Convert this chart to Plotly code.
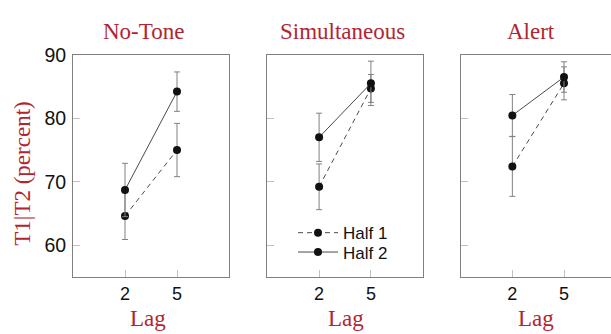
import plotly.graph_objects as go

W, H = 611, 334

conditions = ["No-Tone", "Simultaneous", "Alert"]
lags = [2, 5]
tick_vals_y = [60, 70, 80, 90]
tick_text_y = ["60", "70", "80", "90"]
series_names = ["Half 1", "Half 2"]

# means and error half-widths (percent), per condition, lags 2 and 5
notone_half1 = [64.6, 75.0]
notone_half1_err = [3.7, 4.2]
notone_half2 = [68.7, 84.2]
notone_half2_err = [4.2, 3.1]

simult_half1 = [69.2, 84.7]
simult_half1_err = [3.6, 2.2]
simult_half2 = [77.0, 85.5]
simult_half2_err = [3.8, 3.5]

alert_half1 = [72.4, 85.5]
alert_half1_err = [4.7, 2.6]
alert_half2 = [80.45, 86.5]
alert_half2_err = [3.3, 2.4]

panels = [
    (notone_half1, notone_half1_err, notone_half2, notone_half2_err),
    (simult_half1, simult_half1_err, simult_half2, simult_half2_err),
    (alert_half1, alert_half1_err, alert_half2, alert_half2_err),
]

RED = "#b22530"
SERIF = "Liberation Serif, Times New Roman, serif"
SANS = "Liberation Sans, Arial, sans-serif"
LINE_C = "#4a4a4a"
ERR_C = "#808080"
BORDER_C = "#808080"
TICK_C = "#c0c0c0"

def fx(p):
    return p / W

def fy(p):
    return 1 - p / H

x_domains = [[fx(73), fx(229)], [fx(267.3), fx(422.7)], [fx(460.7), 1.0]]
x_ranges = [[-1, 8], [-1, 8], [-1, 7.73]]
y_domain = [fy(275), fy(45.3)]

fig = go.Figure()

for i, (h1, h1e, h2, h2e) in enumerate(panels):
    xa = "x" if i == 0 else f"x{i+1}"
    ya = "y" if i == 0 else f"y{i+1}"
    for name, vals, errs, dash, leg in [
        (series_names[0], h1, h1e, "5px,4px", "legend"),
        (series_names[1], h2, h2e, "solid", "legend2"),
    ]:
        fig.add_trace(go.Scatter(
            x=lags, y=vals, xaxis=xa, yaxis=ya,
            mode="lines+markers", name=name,
            showlegend=(i == 1), legend=leg,
            line=dict(color=LINE_C, width=1, dash=dash),
            marker=dict(color="#111111", size=8),
            error_y=dict(type="data", array=errs, visible=True,
                         color=ERR_C, thickness=1, width=3),
        ))

leg_common = dict(
    xanchor="left", yanchor="middle",
    font=dict(family=SANS, size=17, color="#111111"),
    bgcolor="rgba(0,0,0,0)", borderwidth=0, itemwidth=40,
)

layout = dict(
    width=W, height=H,
    margin=dict(l=0, r=0, t=0, b=0),
    plot_bgcolor="white", paper_bgcolor="white",
    showlegend=True,
    legend=dict(x=fx(293), y=fy(229.7), **leg_common),
    legend2=dict(x=fx(293), y=fy(249.7), **leg_common),
)

for i in range(3):
    sx = "" if i == 0 else str(i + 1)
    layout[f"xaxis{sx}"] = dict(
        domain=x_domains[i], range=x_ranges[i], anchor=f"y{sx}",
        tickmode="array", tickvals=lags, ticktext=[str(v) for v in lags],
        ticks="inside", ticklen=7, tickcolor=TICK_C, tickwidth=1,
        showline=True, linecolor=BORDER_C, linewidth=1, mirror=True,
        showgrid=False, zeroline=False,
        tickfont=dict(family=SANS, size=18, color="#111111"),
        fixedrange=True,
    )
    layout[f"yaxis{sx}"] = dict(
        domain=y_domain, range=[55, 90], anchor=f"x{sx}",
        tickmode="array", tickvals=tick_vals_y, ticktext=tick_text_y,
        showticklabels=(i == 0), ticklabelstandoff=2,
        ticks="inside", ticklen=7, tickcolor=TICK_C, tickwidth=1,
        showline=True, linecolor=BORDER_C, linewidth=1,
        mirror=(i != 2),
        showgrid=False, zeroline=False,
        tickfont=dict(family=SANS, size=19.5, color="#111111"),
        fixedrange=True,
    )

fig.update_layout(**layout)

title_x = [143, 342.7, 531]
lag_x = [147.7, 346, 535.8]
for i, cond in enumerate(conditions):
    fig.add_annotation(
        text=cond, xref="paper", yref="paper",
        x=fx(title_x[i]), y=fy(21), xanchor="center", yanchor="middle",
        showarrow=False, font=dict(family=SERIF, size=23, color=RED),
    )
    fig.add_annotation(
        text="Lag", xref="paper", yref="paper",
        x=fx(lag_x[i]), y=fy(318), xanchor="center", yanchor="middle",
        showarrow=False, font=dict(family=SERIF, size=23, color=RED),
    )

fig.add_annotation(
    text="T1|T2 (percent)", xref="paper", yref="paper",
    x=fx(23), y=fy(168.3), xanchor="center", yanchor="middle",
    textangle=-90, showarrow=False,
    font=dict(family=SERIF, size=23, color=RED),
)

fig.write_html(
    "out.html",
    config={"displayModeBar": False},
    post_script="document.body.style.margin='0';document.body.style.overflow='hidden';",
)
